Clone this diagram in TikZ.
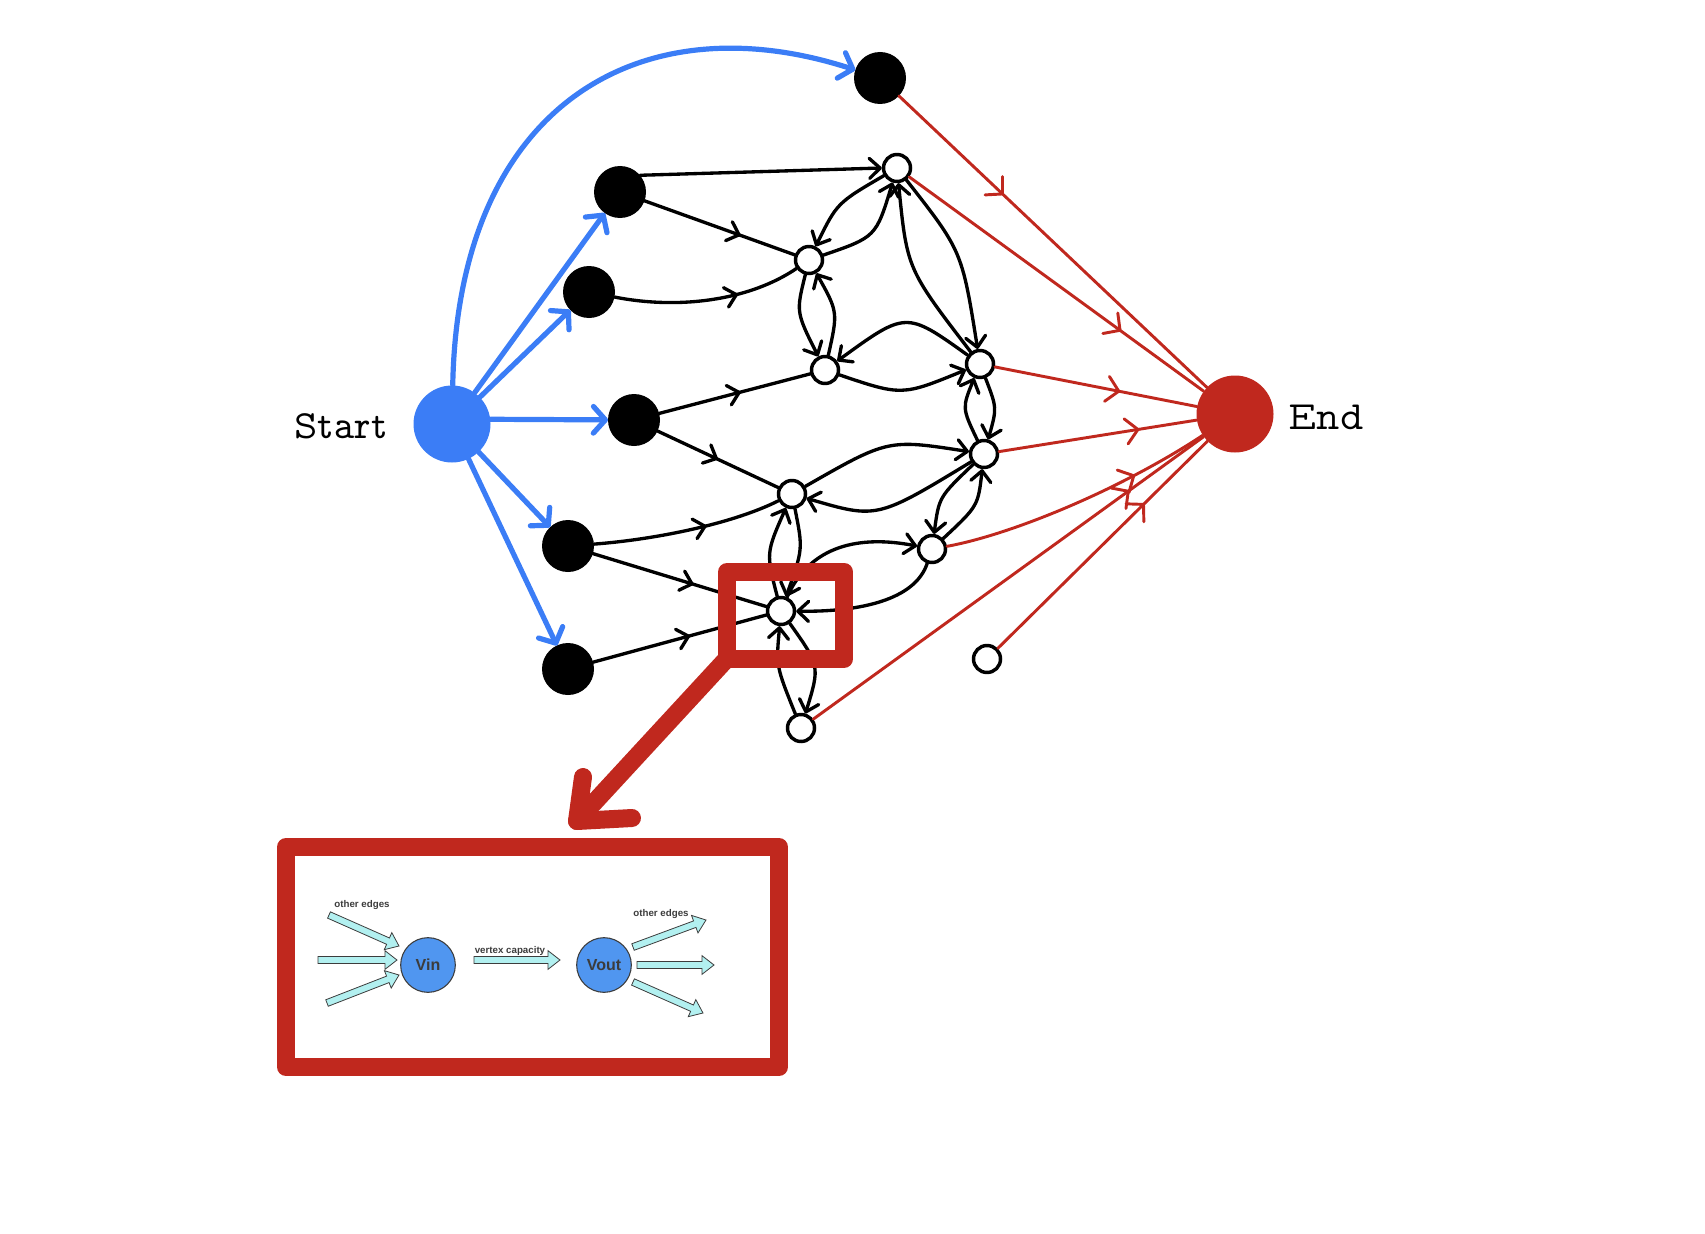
\documentclass[tikz,border=0pt]{standalone}
\usepackage{fontspec}
\usepackage{graphicx}
\usetikzlibrary{arrows.meta,decorations.markings,calc}
\definecolor{startblue}{RGB}{59,125,246}
\definecolor{endred}{RGB}{192,40,30}
\definecolor{vblue}{RGB}{80,150,240}
\definecolor{cyfill}{RGB}{178,240,240}
\definecolor{darkgr}{RGB}{60,60,60}
\newfontfamily\typew{lmmonoprop10-regular.otf}
\newfontfamily\insetfont{Liberation Sans}
\newcommand\cyarr[2]{%
  \coordinate (cya) at #1;
  \coordinate (cyb) at #2;
  \coordinate (cyc) at ($(cyb)!9pt!(cya)$);
  \draw[cyanarrow] ($(cya)!2.6pt!90:(cyb)$) -- ($(cyc)!2.6pt!-90:(cya)$) -- ($(cyc)!7pt!-90:(cya)$) -- (cyb)
     -- ($(cyc)!7pt!90:(cya)$) -- ($(cyc)!2.6pt!90:(cya)$) -- ($(cya)!2.6pt!-90:(cyb)$) -- cycle;}
\tikzset{
  kbarb/.tip={Straight Barb[length=8pt,width=15pt,round]},
  rbarb/.tip={Straight Barb[length=9pt,width=19pt,round]},
  bbarb/.tip={Straight Barb[length=9pt,width=20pt,round]},
  blk/.style={circle, fill=black, inner sep=0pt, outer sep=0pt, minimum size=39pt},
  wht/.style={circle, draw=black, fill=white, line width=2.6pt, inner sep=0pt, minimum size=20.25pt},
  kedge/.style={draw=black, line width=2.5pt, line cap=round},
  redge/.style={draw=endred, line width=2.2pt, line cap=round},
  bedge/.style={draw=startblue, line width=3.9pt, line cap=round, -{bbarb}},
  bigred/.style={draw=endred, line width=13.5pt, line cap=round, line join=round},
  marr/.style 2 args={postaction={decorate,decoration={markings,mark=at position #1 with {\arrow{#2}}}}},
  cyanarrow/.style={draw=darkgr, fill=cyfill, line width=0.6pt, line join=miter},
  vcirc/.style={circle, draw=darkgr, fill=vblue, line width=0.8pt, inner sep=0pt, minimum size=41pt,
     font=\insetfont\bfseries\fontsize{12}{14}\selectfont, text=darkgr},
  itext/.style={font=\insetfont\bfseries\fontsize{7.3}{8}\selectfont, text=darkgr, inner sep=0pt},
  lbl/.style={font=\typew\fontsize{30}{32}\selectfont, inner sep=0pt},
}
\begin{document}
\begin{tikzpicture}[x=0.75pt,y=-0.75pt]
\useasboundingbox (0,0) rectangle (1705,1234);

% main nodes
\node[circle, fill=startblue, inner sep=0pt, minimum size=57.75pt] (S) at (452,424) {};
\node[circle, fill=endred, inner sep=0pt, minimum size=57.75pt] (E) at (1235,414) {};
\node[lbl] (startlbl) at (341,426) {Start};
\node[lbl] (endlbl) at (1326,417) {End};

\node[blk] (T)  at (880,78) {};
\node[blk] (B1) at (620,192) {};
\node[blk] (B2) at (589,292) {};
\node[blk] (B3) at (634,420) {};
\node[blk] (B4) at (568,546) {};
\node[blk] (B5) at (568,669) {};

\node[wht] (W1) at (897,168) {};
\node[wht] (W2) at (809,260) {};
\node[wht] (W3) at (825,370) {};
\node[wht] (W4) at (980,364) {};
\node[wht] (N5) at (792,494) {};
\node[wht] (N6) at (984,454) {};
\node[wht] (N7) at (932,549) {};
\node[wht] (N8) at (781,611) {};
\node[wht] (N9) at (801,728) {};
\node[wht] (N10) at (987,659) {};

% blue edges
\draw[bedge] (S) .. controls (458,105) and (640,0) .. (T);
\draw[bedge] (S) -- (B1);
\draw[bedge] (S) -- (B2);
\draw[bedge] (S.7) -- (B3);
\draw[bedge] (S) -- (B4);
\draw[bedge] (S) -- (B5);

% black edges from black nodes
\draw[kedge,-{kbarb}] (B1.40) -- (W1.west);
\draw[kedge,marr={0.64}{kbarb}] (B1) -- (W2);
\draw[kedge,marr={0.66}{kbarb}] (B2) .. controls (680,310) and (750,300) .. (W2);
\draw[kedge,marr={0.54}{kbarb}] (B3) -- (W3);
\draw[kedge,marr={0.5}{kbarb}] (B3) -- (N5);
\draw[kedge,marr={0.6}{kbarb}] (B4) .. controls (650,540) and (730,525) .. (N5);
\draw[kedge,marr={0.58}{kbarb}] (B4) -- (N8);
\draw[kedge,marr={0.56}{kbarb}] (B5) -- (N8);

% black edges between white nodes
\draw[kedge,-{kbarb}] (W1) .. controls (837,203) .. (W2);
\draw[kedge,-{kbarb}] (W2) .. controls (876,237) .. (W1);
\draw[kedge,-{kbarb}] (W2) .. controls (796,312) .. (W3);
\draw[kedge,-{kbarb}] (W3) .. controls (838,312) .. (W2);
\draw[kedge,-{kbarb}] (W1) .. controls (962,251) .. (W4);
\draw[kedge,-{kbarb}] (W4) .. controls (907,269) .. (W1);
\draw[kedge,-{kbarb}] (W4) .. controls (906,311) .. (W3);
\draw[kedge,-{kbarb}] (W3) .. controls (902,396) .. (W4);
\draw[kedge,-{kbarb}] (N6) .. controls (962,408) .. (W4);
\draw[kedge,-{kbarb}] (W4) .. controls (997,408) .. (N6);
\draw[kedge,-{kbarb}] (N5) .. controls (888,439) .. (N6);
\draw[kedge,-{kbarb}] (N6) .. controls (877,519) .. (N5);
\draw[kedge,-{kbarb}] (N6) .. controls (939,497) .. (N7);
\draw[kedge,-{kbarb}] (N7) .. controls (978,506) .. (N6);
\draw[kedge,-{kbarb}] (N8) .. controls (766,553) .. (N5);
\draw[kedge,-{kbarb}] (N5) .. controls (803,549) .. (N8);
\draw[kedge,-{kbarb}] (N8) .. controls (810,545) and (860,535) .. (N7);
\draw[kedge,-{kbarb}] (N7) .. controls (915,600) and (860,612) .. (N8);
\draw[kedge,-{kbarb}] (N9) .. controls (776,666) .. (N8);
\draw[kedge,-{kbarb}] (N8) .. controls (820,666) .. (N9);

% red edges
\draw[redge,marr={0.34}{rbarb}] (T) -- (E);
\draw[redge,marr={0.72}{rbarb}] (W1) -- (E);
\draw[redge,marr={0.62}{rbarb}] (W4) -- (E);
\draw[redge,marr={0.71}{rbarb}] (N6) -- (E);
\draw[redge,marr={0.72}{rbarb}] (N7) .. controls (1010,535) and (1120,490) .. (E);
\draw[redge,marr={0.81}{rbarb}] (N9) -- (E);
\draw[redge,marr={0.70}{rbarb}] (N10) -- (E);

% zoom box and big arrow
\node[draw=endred, line width=13.5pt, line join=round, inner sep=0pt, outer sep=0pt,
      minimum width=88.1pt, minimum height=64.9pt] (zbox) at (785.75,615.25) {};
\coordinate (bigtip) at (577,821);
\coordinate (armup) at (583,777);
\coordinate (armright) at (632,818);
\draw[bigred] (zbox.south west) -- (bigtip);
\draw[bigred] (armup) -- (bigtip) -- (armright);

% inset
\node[draw=endred, line width=13.5pt, line join=round, inner sep=0pt, outer sep=0pt,
      minimum width=369.75pt, minimum height=165pt] (inset) at (532.5,957) {};
\cyarr{(329,915)}{(399,946)}
\cyarr{(318,960)}{(397,960)}
\cyarr{(327,1003)}{(399,975)}
\cyarr{(474,960)}{(560,960)}
\cyarr{(633,947)}{(706,920)}
\cyarr{(637,965)}{(714,965)}
\cyarr{(633,982)}{(703,1013)}
\node[vcirc] (vin) at (428,965) {Vin};
\node[vcirc] (vout) at (604,965) {Vout};
\node[itext] (oe1) at (362,904.5) {other edges};
\node[itext] (oe2) at (661,913.5) {other edges};
\node[itext] (vc) at (510,951) {vertex capacity};
\end{tikzpicture}
\end{document}
